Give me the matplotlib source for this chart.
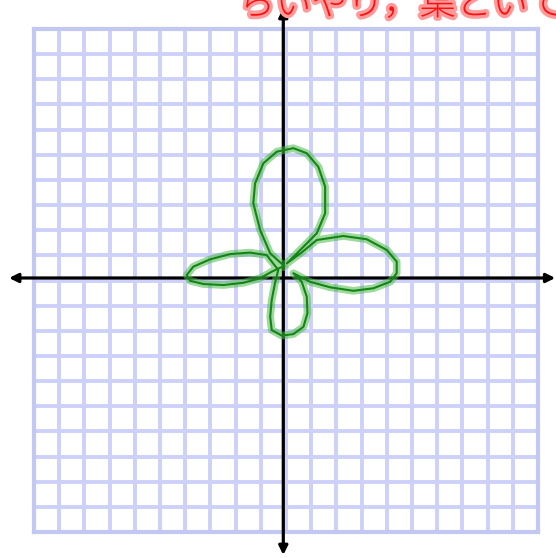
import numpy as np
import matplotlib
matplotlib.use('Agg')
import matplotlib.pyplot as plt
import matplotlib.patheffects as pe

# grid extent (cells)
grid_ticks = list(range(-10, 11))

# hand drawn clover (grid units)
clover_x = [-0.08, -0.63, -1.03, -1.30, -1.23, -0.90, -0.37, 0.29, 0.82, 1.28, 1.55, 1.55, 1.22, 0.69, 0.03,
            0.60, 1.22, 2.27, 3.20, 4.00, 4.39, 4.39, 4.13, 3.46, 2.67, 1.75, 0.95, 0.29,
            0.62, 0.82, 0.85, 0.69, 0.29, -0.17, -0.57, -0.63, -0.57, -0.44, -0.31,
            -0.77, -1.43, -2.22, -3.02, -3.68, -3.94, -3.81, -3.28, -2.49, -1.69, -1.03, -0.57, -0.08]
clover_y = [0.58, 1.08, 2.01, 3.07, 3.86, 4.66, 5.12, 5.26, 5.06, 4.52, 3.73, 2.67, 1.88, 1.34, 0.68,
            1.10, 1.61, 1.77, 1.64, 1.21, 0.75, 0.29, -0.05, -0.31, -0.41, -0.27, -0.05, 0.29,
            -0.05, -0.64, -1.30, -1.84, -2.13, -2.19, -1.97, -1.44, -0.78, -0.11, 0.42,
            1.01, 1.11, 1.05, 0.84, 0.55, 0.22, -0.01, -0.14, -0.18, -0.09, 0.09, 0.35, 0.58]

note_text = 'らいやり，葉といて'

fig = plt.figure(figsize=(5.56, 5.58), dpi=100)
ax = fig.add_axes([0, 0, 1, 1])
ax.set_xlim(-11.35, 10.71)
ax.set_ylim(-11.03, 11.15)
ax.axis('off')

# blue graph paper
for t in grid_ticks:
    ax.plot([t, t], [-10, 10], color='#cdd1fa', lw=2.8, solid_capstyle='butt', zorder=1)
    ax.plot([-10, 10], [t, t], color='#cdd1fa', lw=2.8, solid_capstyle='butt', zorder=1)
for t in (-10, 10):
    ax.plot([t, t], [-10, 10], color='#c3c8f2', lw=3.0, zorder=1.1)
    ax.plot([-10, 10], [t, t], color='#c3c8f2', lw=3.0, zorder=1.1)

# axes with arrows
arrow = dict(arrowstyle='<|-|>', lw=2.3, color='black', mutation_scale=13, shrinkA=0, shrinkB=0)
ax.annotate('', xy=(10.68, 0.10), xytext=(-10.99, 0.10), arrowprops=arrow, zorder=3,
            annotation_clip=False)
ax.annotate('', xy=(-0.11, 10.83), xytext=(-0.11, -10.91), arrowprops=arrow, zorder=3,
            annotation_clip=False)

# clover
ax.plot(clover_x, clover_y, color='#148414', lw=1.5, solid_joinstyle='round', zorder=4,
        path_effects=[pe.Stroke(linewidth=5.5, foreground=(0.3, 0.72, 0.3, 0.55)), pe.Normal()])

# red handwritten note, cut off by the top edge like in the scan
fig.text(0.43, 0.992, note_text, color='#ff1010', fontsize=26, ha='left', va='center',
         family=['Noto Sans CJK JP', 'DejaVu Sans'], fontweight='light',
         path_effects=[pe.withStroke(linewidth=5, foreground='#ff9a9a')])

fig.savefig('out.png', dpi=100)
